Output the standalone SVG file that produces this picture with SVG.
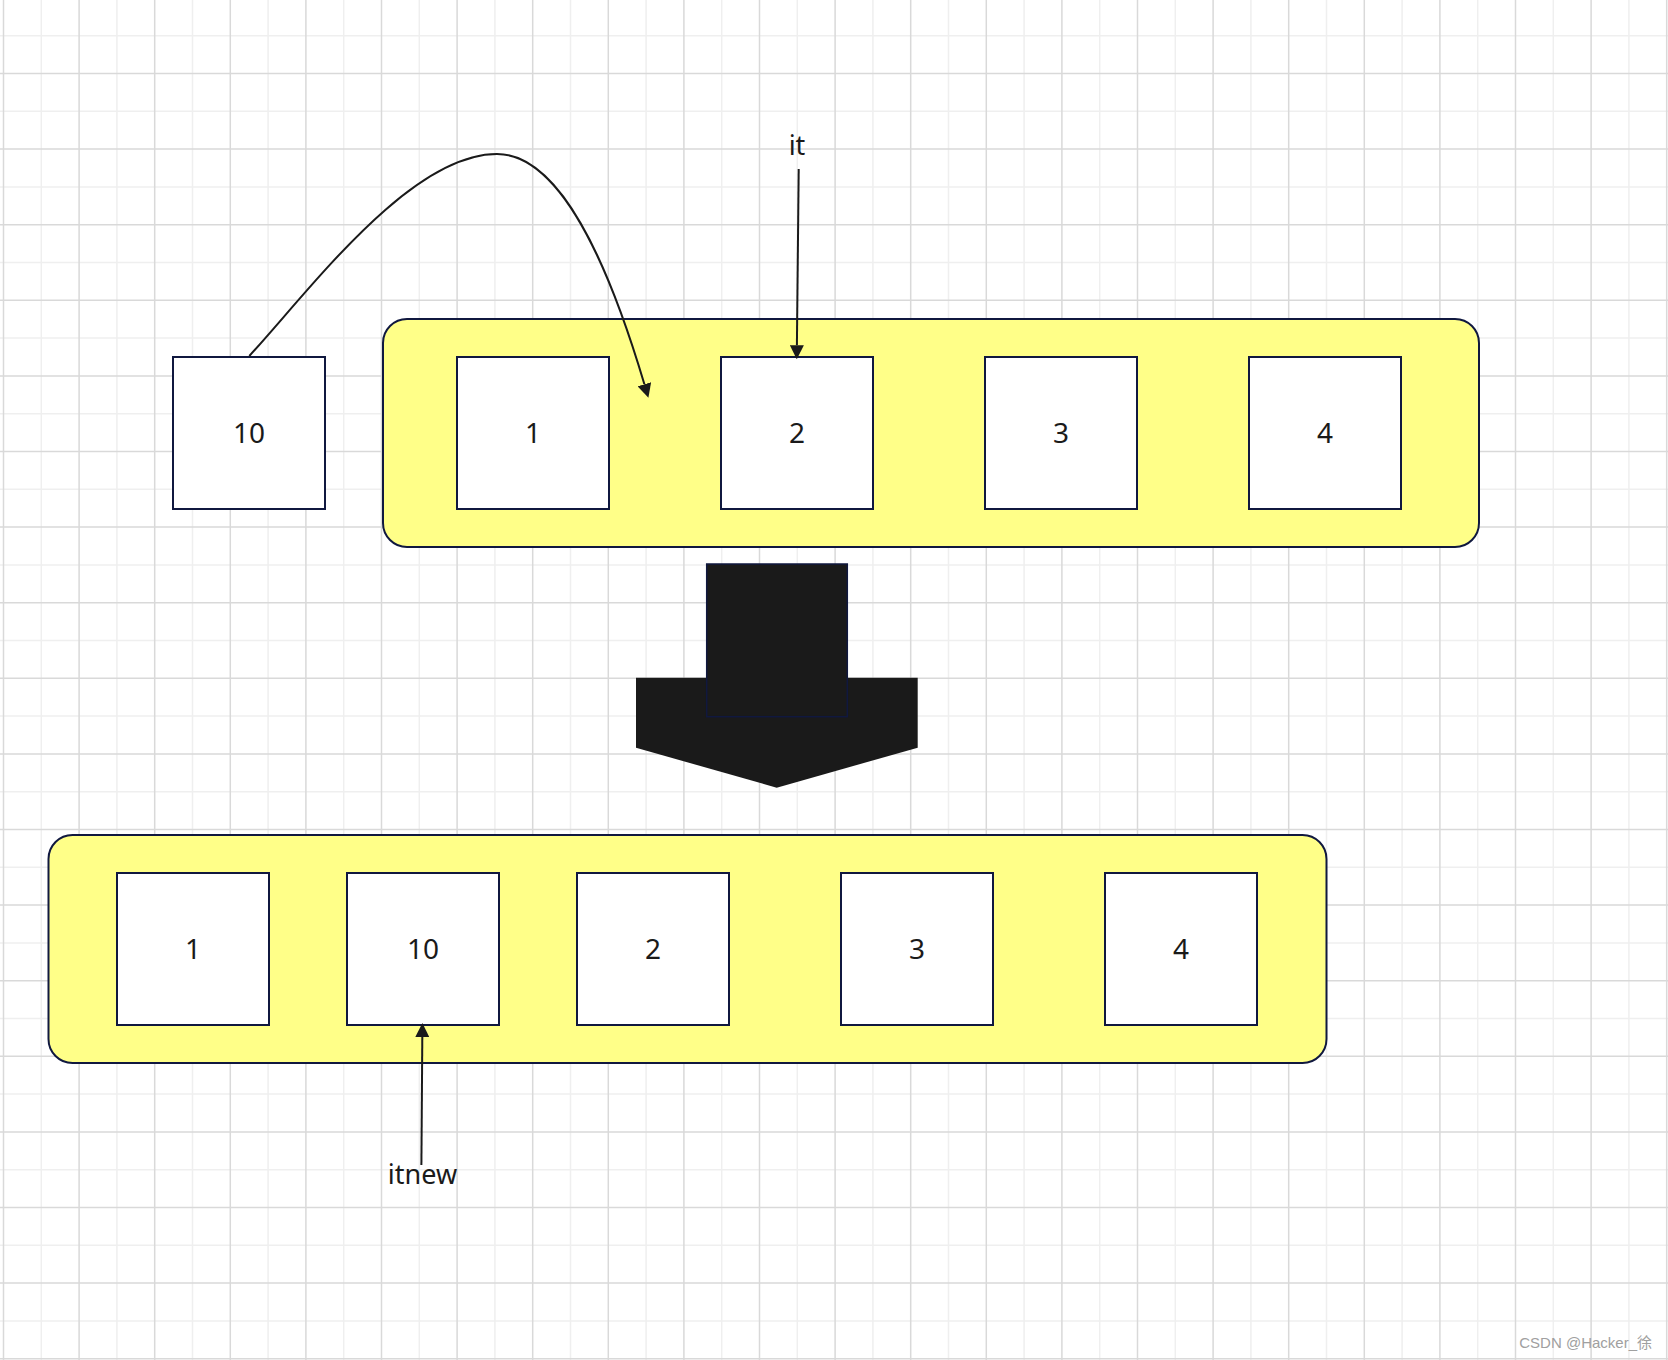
<svg xmlns="http://www.w3.org/2000/svg" width="1668" height="1360" viewBox="0 0 1668 1360">
  <defs>
    <style>
      .gl { stroke: #efefef; stroke-width: 1.5; fill: none; }
      .gd { stroke: #d9d9d9; stroke-width: 1.5; fill: none; }
      .cont { fill: #ffff88; stroke: #10183f; stroke-width: 2; }
      .box { fill: #ffffff; stroke: #10183f; stroke-width: 2; }
      .lbl { font-family: "Noto Sans", "Liberation Sans", sans-serif; font-size: 28px; fill: #1a1a1a; text-anchor: middle; }
      .edge { fill: none; stroke: #1a1a1a; stroke-width: 2; }
      .wm { font-family: "Liberation Sans", "Noto Sans CJK SC", sans-serif; font-size: 15px; fill: #a0a0a0; text-anchor: end; }
    </style>
    <marker id="arr" markerUnits="userSpaceOnUse" markerWidth="14" markerHeight="14" viewBox="0 0 13 13" refX="0" refY="6.5" orient="auto">
      <path d="M0,0 L13,6.5 L0,13 Z" fill="#1a1a1a"/>
    </marker>
  </defs>
  <rect x="0" y="0" width="1668" height="1360" fill="#ffffff"/>
  <g id="grid">
    <path class="gl" d="M41.3,0V1360M116.9,0V1360M192.5,0V1360M268.1,0V1360M343.7,0V1360M419.3,0V1360M494.9,0V1360M570.5,0V1360M646.1,0V1360M721.7,0V1360M797.3,0V1360M872.9,0V1360M948.5,0V1360M1024.1,0V1360M1099.7,0V1360M1175.3,0V1360M1250.9,0V1360M1326.5,0V1360M1402.1,0V1360M1477.7,0V1360M1553.3,0V1360M1628.9,0V1360
      M0,35.7H1668M0,111.3H1668M0,186.9H1668M0,262.5H1668M0,338.1H1668M0,413.7H1668M0,489.3H1668M0,564.9H1668M0,640.5H1668M0,716.1H1668M0,791.7H1668M0,867.3H1668M0,942.9H1668M0,1018.5H1668M0,1094.1H1668M0,1169.7H1668M0,1245.3H1668M0,1320.9H1668"/>
    <path class="gd" d="M3.5,0V1360M79.1,0V1360M154.7,0V1360M230.3,0V1360M305.9,0V1360M381.5,0V1360M457.1,0V1360M532.7,0V1360M608.3,0V1360M683.9,0V1360M759.5,0V1360M835.1,0V1360M910.7,0V1360M986.3,0V1360M1061.9,0V1360M1137.5,0V1360M1213.1,0V1360M1288.7,0V1360M1364.3,0V1360M1439.9,0V1360M1515.5,0V1360M1591.1,0V1360M1666.7,0V1360
      M0,73.5H1668M0,149.1H1668M0,224.7H1668M0,300.3H1668M0,375.9H1668M0,451.5H1668M0,527.1H1668M0,602.7H1668M0,678.3H1668M0,753.9H1668M0,829.5H1668M0,905.1H1668M0,980.7H1668M0,1056.3H1668M0,1131.9H1668M0,1207.5H1668M0,1283.1H1668M0,1358.7H1668"/>
  </g>

  <g id="container-top"><rect class="cont" x="383" y="319" width="1096" height="228" rx="24" ry="24"/></g>
  <g id="container-bottom"><rect class="cont" x="48.5" y="835" width="1278" height="228" rx="24" ry="24"/></g>

  <g id="top-10"><rect class="box" x="173" y="357" width="152" height="152"/><text class="lbl" x="249" y="443">10</text></g>
  <g id="top-1"><rect class="box" x="457" y="357" width="152" height="152"/><text class="lbl" x="533" y="443">1</text></g>
  <g id="top-2"><rect class="box" x="721" y="357" width="152" height="152"/><text class="lbl" x="797" y="443">2</text></g>
  <g id="top-3"><rect class="box" x="985" y="357" width="152" height="152"/><text class="lbl" x="1061" y="443">3</text></g>
  <g id="top-4"><rect class="box" x="1249" y="357" width="152" height="152"/><text class="lbl" x="1325" y="443">4</text></g>

  <g id="bottom-1"><rect class="box" x="117" y="873" width="152" height="152"/><text class="lbl" x="193" y="959">1</text></g>
  <g id="bottom-10"><rect class="box" x="347" y="873" width="152" height="152"/><text class="lbl" x="423" y="959">10</text></g>
  <g id="bottom-2"><rect class="box" x="577" y="873" width="152" height="152"/><text class="lbl" x="653" y="959">2</text></g>
  <g id="bottom-3"><rect class="box" x="841" y="873" width="152" height="152"/><text class="lbl" x="917" y="959">3</text></g>
  <g id="bottom-4"><rect class="box" x="1105" y="873" width="152" height="152"/><text class="lbl" x="1181" y="959">4</text></g>

  <g id="block-arrow">
    <polygon points="636,677.7 917.7,677.7 917.7,747.7 776.7,787.7 636,747.7" fill="#1a1a1a"/>
    <rect x="706.7" y="564" width="140.6" height="152.7" fill="#1a1a1a" stroke="#10183f" stroke-width="1.5"/>
  </g>

  <g id="label-it"><text class="lbl" x="797" y="155" style="font-size:27px">it</text></g>
  <g id="label-itnew"><text class="lbl" x="422.5" y="1184" style="font-size:27px">itnew</text></g>

  <g id="connectors">
    <path class="edge" d="M249.3,356 C310,290 410,154 497,154 C560,154 608,262 644.4,384.3" marker-end="url(#arr)"/>
    <path class="edge" d="M798.7,169 L796.9,345.3" marker-end="url(#arr)"/>
    <path class="edge" d="M421.4,1165 L422.3,1037" marker-end="url(#arr)"/>
  </g>

  <text class="wm" x="1652" y="1348">CSDN @Hacker_徐</text>
</svg>
